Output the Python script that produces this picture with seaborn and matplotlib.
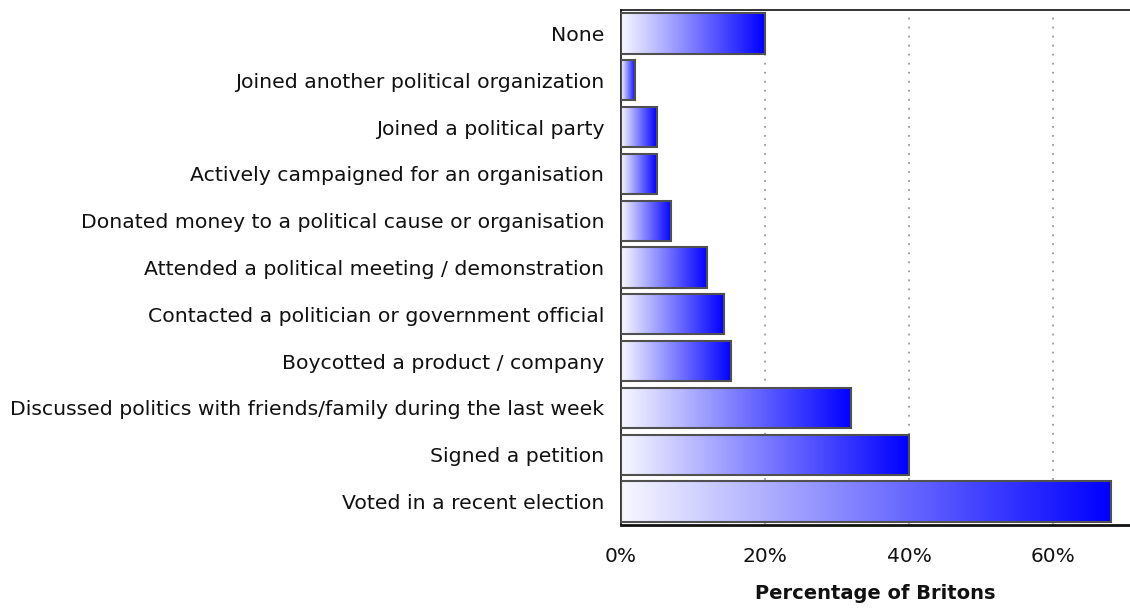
import numpy as np
import pandas as pd
import matplotlib
matplotlib.use("Agg")
import matplotlib.pyplot as plt
import seaborn as sns
from matplotlib.colors import LinearSegmentedColormap

categories = [
    "None",
    "Joined another political organization",
    "Joined a political party",
    "Actively campaigned for an organisation",
    "Donated money to a political cause or organisation",
    "Attended a political meeting / demonstration",
    "Contacted a politician or government official",
    "Boycotted a product / company",
    "Discussed politics with friends/family during the last week",
    "Signed a petition",
    "Voted in a recent election",
]
values = [20, 2, 5, 5, 7, 12, 14.3, 15.3, 32, 40, 68]
x_ticks = [0, 20, 40, 60]
x_tick_labels = ["0%", "20%", "40%", "60%"]
x_label = "Percentage of Britons"

df = pd.DataFrame({"activity": categories, "pct": values})

sns.set_style("white")
plt.rcParams["font.family"] = ["DejaVu Sans"]

fig = plt.figure(figsize=(11.3, 6.1), dpi=100)
ax = fig.add_axes([621 / 1130, 1 - 525 / 610, 1 - 621 / 1130, (525 - 10) / 610])

sns.barplot(data=df, x="pct", y="activity", orient="h", width=0.86,
            color="blue", edgecolor="#505050", linewidth=1.5, ax=ax, zorder=3)

# white-to-blue gradient fill inside each bar
cmap = LinearSegmentedColormap.from_list("wb", ["#f8f8ff", "#0000ff"])
grad = np.linspace(0, 1, 256).reshape(1, -1)
for patch in ax.patches:
    x0, y0 = patch.get_x(), patch.get_y()
    w, h = patch.get_width(), patch.get_height()
    im = ax.imshow(grad, cmap=cmap, aspect="auto",
                   extent=[x0, x0 + w, y0 + h, y0], zorder=2.5,
                   interpolation="bilinear")
    im.set_clip_path(patch)
    patch.set_facecolor("none")
ax.set_xlim(0, 70.7)
ax.set_ylim(10.5, -0.5)

# dotted vertical gridlines
for xv in x_ticks[1:]:
    ax.axvline(xv, color="#9a9a9a", linestyle=(0, (1, 4)), linewidth=1.3, zorder=1)

ax.set_xticks(x_ticks)
ax.set_xticklabels(x_tick_labels)
ax.set_yticks(range(len(categories)))
ax.set_yticklabels(categories)
ax.set_yticks(np.arange(-0.5, len(categories), 1), minor=True)

ax.tick_params(axis="x", which="major", direction="out", length=6, width=2,
               color="#111111", labelsize=14.5, pad=10, labelcolor="#111111")
ax.tick_params(axis="y", which="major", length=0, labelsize=14.7, pad=12,
               labelcolor="#111111")
ax.tick_params(axis="y", which="minor", direction="out", length=3, width=1,
               color="#333333")

for side in ["top", "left", "bottom"]:
    ax.spines[side].set_visible(True)
    ax.spines[side].set_color("#111111")
ax.spines["right"].set_visible(False)
ax.spines["top"].set_linewidth(1.2)
ax.spines["left"].set_linewidth(1.2)
ax.spines["bottom"].set_linewidth(2)

ax.set_ylabel("")
ax.set_xlabel(x_label, fontsize=14, fontweight="bold", labelpad=13, color="#111111")

fig.savefig("out.png", dpi=100)
